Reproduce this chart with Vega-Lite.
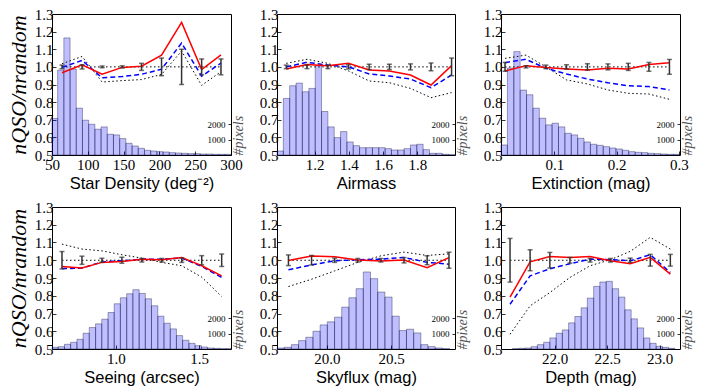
{
  "$schema": "https://vega.github.io/schema/vega-lite/v6.json",
  "padding": {"left": 6, "top": 6, "right": 4, "bottom": 4},
  "background": "white",
  "columns": 3,
  "spacing": {"row": 52, "column": 46},
  "bounds": "flush",
  "config": {
    "view": {"stroke": "black", "strokeWidth": 1},
    "axis": {"labelFont": "Liberation Serif", "labelFontSize": 15, "labelColor": "black", "titleFont": "Liberation Sans", "titleFontSize": 16.5, "titleFontWeight": "normal", "titleColor": "black", "grid": false, "domain": false, "tickColor": "black", "tickSize": -4, "tickWidth": 0.8, "labelPadding": 3, "labelOverlap": false},
    "rect": {"fill": "#0000ff", "fillOpacity": 0.25, "stroke": "#000033", "strokeOpacity": 0.45, "strokeWidth": 0.8, "clip": true}
  },
  "datasets": {
    "h1": [{"b0":50,"b1":57.9,"n":2380},{"b0":57.9,"b1":66.56,"n":5545},{"b0":66.56,"b1":75.22,"n":7640},{"b0":75.22,"b1":83.88,"n":5610},{"b0":83.88,"b1":92.54,"n":3056},{"b0":92.54,"b1":101.2,"n":2270},{"b0":101.2,"b1":109.86,"n":2008},{"b0":109.86,"b1":118.52,"n":1681},{"b0":118.52,"b1":127.18,"n":1834},{"b0":127.18,"b1":135.84,"n":1353},{"b0":135.84,"b1":144.5,"n":1310},{"b0":144.5,"b1":153.16,"n":1070},{"b0":153.16,"b1":161.82,"n":764},{"b0":161.82,"b1":170.48,"n":589},{"b0":170.48,"b1":179.14,"n":437},{"b0":179.14,"b1":187.8,"n":306},{"b0":187.8,"b1":196.46,"n":262},{"b0":196.46,"b1":205.12,"n":218},{"b0":205.12,"b1":213.78,"n":196},{"b0":213.78,"b1":222.44,"n":153},{"b0":222.44,"b1":231.1,"n":131},{"b0":231.1,"b1":239.76,"n":109},{"b0":239.76,"b1":248.42,"n":87},{"b0":248.42,"b1":257.08,"n":87},{"b0":257.08,"b1":265.74,"n":65},{"b0":265.74,"b1":274.4,"n":65},{"b0":274.4,"b1":283.06,"n":44},{"b0":283.06,"b1":291.72,"n":44},{"b0":291.72,"b1":300,"n":44}],
    "l1": [
      {"x":64,"r":0.967,"b":0.997,"k":1.018,"lo":0.99,"hi":1.01},
      {"x":92,"r":1.012,"b":1.037,"k":1.059,"lo":0.988,"hi":1.012},
      {"x":120,"r":0.958,"b":0.938,"k":0.914,"lo":0.995,"hi":1.005},
      {"x":148,"r":0.997,"b":0.945,"k":0.922,"lo":0.994,"hi":1.006},
      {"x":175,"r":1.004,"b":0.958,"k":0.928,"lo":0.98,"hi":1.02},
      {"x":203,"r":1.066,"b":0.987,"k":0.957,"lo":0.95,"hi":1.05},
      {"x":231,"r":1.252,"b":1.135,"k":1.09,"lo":0.9,"hi":1.1},
      {"x":259,"r":0.985,"b":0.947,"k":0.895,"lo":0.955,"hi":1.045},
      {"x":286,"r":1.068,"b":1.022,"k":0.973,"lo":0.955,"hi":1.045}],
    "h2": [{"b0":0.981,"b1":1.018,"n":260},{"b0":1.018,"b1":1.055,"n":3690},{"b0":1.055,"b1":1.092,"n":4520},{"b0":1.092,"b1":1.129,"n":4690},{"b0":1.129,"b1":1.167,"n":4125},{"b0":1.167,"b1":1.204,"n":4345},{"b0":1.204,"b1":1.241,"n":5830},{"b0":1.241,"b1":1.278,"n":2840},{"b0":1.278,"b1":1.315,"n":1834},{"b0":1.315,"b1":1.352,"n":1135},{"b0":1.352,"b1":1.389,"n":1528},{"b0":1.389,"b1":1.426,"n":851},{"b0":1.426,"b1":1.463,"n":611},{"b0":1.463,"b1":1.5,"n":480},{"b0":1.5,"b1":1.538,"n":480},{"b0":1.538,"b1":1.575,"n":480},{"b0":1.575,"b1":1.612,"n":480},{"b0":1.612,"b1":1.649,"n":415},{"b0":1.649,"b1":1.686,"n":327},{"b0":1.686,"b1":1.723,"n":327},{"b0":1.723,"b1":1.76,"n":415},{"b0":1.76,"b1":1.797,"n":655},{"b0":1.797,"b1":1.834,"n":700},{"b0":1.834,"b1":1.871,"n":350},{"b0":1.871,"b1":1.909,"n":110},{"b0":1.909,"b1":1.946,"n":110},{"b0":1.946,"b1":1.983,"n":44},{"b0":1.983,"b1":2.02,"n":20}],
    "l2": [
      {"x":1.035,"r":0.988,"b":1.0,"k":1.02,"lo":0.99,"hi":1.01},
      {"x":1.156,"r":1.014,"b":1.026,"k":1.043,"lo":0.99,"hi":1.01},
      {"x":1.278,"r":1.007,"b":1.01,"k":1.02,"lo":0.99,"hi":1.01},
      {"x":1.398,"r":1.02,"b":1.0,"k":0.977,"lo":0.988,"hi":1.012},
      {"x":1.519,"r":0.982,"b":0.96,"k":0.92,"lo":0.985,"hi":1.015},
      {"x":1.637,"r":0.977,"b":0.948,"k":0.91,"lo":0.985,"hi":1.015},
      {"x":1.76,"r":0.954,"b":0.931,"k":0.878,"lo":0.983,"hi":1.017},
      {"x":1.88,"r":0.897,"b":0.882,"k":0.825,"lo":0.978,"hi":1.022},
      {"x":2.0,"r":1.007,"b":0.954,"k":0.854,"lo":0.95,"hi":1.05}],
    "h3": [{"b0":0.0139,"b1":0.0242,"n":655},{"b0":0.0242,"b1":0.0345,"n":5676},{"b0":0.0345,"b1":0.0447,"n":6745},{"b0":0.0447,"b1":0.055,"n":4235},{"b0":0.055,"b1":0.0653,"n":3930},{"b0":0.0653,"b1":0.0756,"n":3056},{"b0":0.0756,"b1":0.0859,"n":2400},{"b0":0.0859,"b1":0.0961,"n":1965},{"b0":0.0961,"b1":0.1064,"n":2074},{"b0":0.1064,"b1":0.1167,"n":1834},{"b0":0.1167,"b1":0.127,"n":1419},{"b0":0.127,"b1":0.1373,"n":1310},{"b0":0.1373,"b1":0.1475,"n":1092},{"b0":0.1475,"b1":0.1578,"n":851},{"b0":0.1578,"b1":0.1681,"n":700},{"b0":0.1681,"b1":0.1784,"n":633},{"b0":0.1784,"b1":0.1887,"n":546},{"b0":0.1887,"b1":0.1989,"n":458},{"b0":0.1989,"b1":0.2092,"n":393},{"b0":0.2092,"b1":0.2195,"n":306},{"b0":0.2195,"b1":0.2298,"n":218},{"b0":0.2298,"b1":0.2401,"n":175},{"b0":0.2401,"b1":0.2503,"n":153},{"b0":0.2503,"b1":0.2606,"n":109},{"b0":0.2606,"b1":0.2709,"n":87},{"b0":0.2709,"b1":0.2812,"n":65},{"b0":0.2812,"b1":0.2915,"n":44},{"b0":0.2915,"b1":0.302,"n":44}],
    "l3": [
      {"x":0.0204,"r":0.977,"b":1.024,"k":1.048,"lo":0.975,"hi":1.025},
      {"x":0.0541,"r":1.007,"b":1.043,"k":1.067,"lo":0.994,"hi":1.006},
      {"x":0.0862,"r":0.996,"b":0.992,"k":1.0,"lo":0.99,"hi":1.01},
      {"x":0.1193,"r":0.988,"b":0.96,"k":0.926,"lo":0.988,"hi":1.012},
      {"x":0.153,"r":0.982,"b":0.931,"k":0.903,"lo":0.982,"hi":1.018},
      {"x":0.186,"r":0.992,"b":0.91,"k":0.869,"lo":0.983,"hi":1.017},
      {"x":0.2187,"r":0.988,"b":0.893,"k":0.85,"lo":0.98,"hi":1.02},
      {"x":0.252,"r":1.014,"b":0.888,"k":0.846,"lo":0.975,"hi":1.025},
      {"x":0.285,"r":1.024,"b":0.869,"k":0.816,"lo":0.958,"hi":1.042}],
    "h4": [{"b0":0.616,"b1":0.653,"n":109},{"b0":0.653,"b1":0.691,"n":152},{"b0":0.691,"b1":0.728,"n":304},{"b0":0.728,"b1":0.766,"n":434},{"b0":0.766,"b1":0.803,"n":629},{"b0":0.803,"b1":0.84,"n":1020},{"b0":0.84,"b1":0.878,"n":1389},{"b0":0.878,"b1":0.915,"n":1628},{"b0":0.915,"b1":0.953,"n":1931},{"b0":0.953,"b1":0.99,"n":2365},{"b0":0.99,"b1":1.027,"n":2930},{"b0":1.027,"b1":1.065,"n":3320},{"b0":1.065,"b1":1.102,"n":3580},{"b0":1.102,"b1":1.14,"n":3841},{"b0":1.14,"b1":1.177,"n":3602},{"b0":1.177,"b1":1.214,"n":3255},{"b0":1.214,"b1":1.252,"n":2800},{"b0":1.252,"b1":1.289,"n":2127},{"b0":1.289,"b1":1.327,"n":1671},{"b0":1.327,"b1":1.364,"n":1302},{"b0":1.364,"b1":1.401,"n":868},{"b0":1.401,"b1":1.439,"n":564},{"b0":1.439,"b1":1.476,"n":369},{"b0":1.476,"b1":1.514,"n":217},{"b0":1.514,"b1":1.551,"n":130},{"b0":1.551,"b1":1.588,"n":65},{"b0":1.588,"b1":1.626,"n":43},{"b0":1.626,"b1":1.663,"n":22},{"b0":1.663,"b1":1.692,"n":22}],
    "l4": [
      {"x":0.676,"r":0.965,"b":0.953,"k":1.091,"lo":0.951,"hi":1.049},
      {"x":0.796,"r":0.956,"b":0.956,"k":1.063,"lo":0.977,"hi":1.023},
      {"x":0.916,"r":0.988,"b":0.99,"k":1.053,"lo":0.989,"hi":1.011},
      {"x":1.036,"r":0.993,"b":0.997,"k":1.031,"lo":0.983,"hi":1.017},
      {"x":1.156,"r":1.006,"b":1.006,"k":1.012,"lo":0.99,"hi":1.01},
      {"x":1.276,"r":1.003,"b":1.006,"k":0.988,"lo":0.99,"hi":1.01},
      {"x":1.396,"r":1.016,"b":1.012,"k":0.969,"lo":0.988,"hi":1.012},
      {"x":1.516,"r":0.969,"b":0.965,"k":0.905,"lo":0.974,"hi":1.026},
      {"x":1.636,"r":0.912,"b":0.903,"k":0.796,"lo":0.965,"hi":1.035}],
    "h5": [{"b0":19.611,"b1":19.667,"n":65},{"b0":19.667,"b1":19.723,"n":109},{"b0":19.723,"b1":19.779,"n":282},{"b0":19.779,"b1":19.835,"n":543},{"b0":19.835,"b1":19.891,"n":760},{"b0":19.891,"b1":19.947,"n":1150},{"b0":19.947,"b1":20.003,"n":1562},{"b0":20.003,"b1":20.059,"n":1758},{"b0":20.059,"b1":20.115,"n":2062},{"b0":20.115,"b1":20.171,"n":2713},{"b0":20.171,"b1":20.227,"n":3320},{"b0":20.227,"b1":20.283,"n":3906},{"b0":20.283,"b1":20.339,"n":4991},{"b0":20.339,"b1":20.395,"n":4557},{"b0":20.395,"b1":20.451,"n":3689},{"b0":20.451,"b1":20.507,"n":3364},{"b0":20.507,"b1":20.563,"n":2127},{"b0":20.563,"b1":20.619,"n":1194},{"b0":20.619,"b1":20.675,"n":1280},{"b0":20.675,"b1":20.731,"n":1042},{"b0":20.731,"b1":20.787,"n":282},{"b0":20.787,"b1":20.843,"n":152},{"b0":20.843,"b1":20.899,"n":65},{"b0":20.899,"b1":20.955,"n":22}],
    "l5": [
      {"x":19.70,"r":0.999,"b":0.946,"k":0.852,"lo":0.97,"hi":1.03},
      {"x":19.88,"r":1.024,"b":0.974,"k":0.893,"lo":0.973,"hi":1.027},
      {"x":20.06,"r":1.02,"b":0.997,"k":0.94,"lo":0.988,"hi":1.012},
      {"x":20.24,"r":1.001,"b":1.003,"k":0.988,"lo":0.99,"hi":1.01},
      {"x":20.42,"r":0.996,"b":1.006,"k":1.025,"lo":0.99,"hi":1.01},
      {"x":20.60,"r":1.001,"b":1.016,"k":1.046,"lo":0.985,"hi":1.015},
      {"x":20.78,"r":0.958,"b":0.988,"k":1.027,"lo":0.975,"hi":1.025},
      {"x":20.95,"r":1.015,"b":0.978,"k":1.036,"lo":0.955,"hi":1.045}],
    "h6": [{"b0":21.598,"b1":21.658,"n":22},{"b0":21.658,"b1":21.717,"n":43},{"b0":21.717,"b1":21.777,"n":65},{"b0":21.777,"b1":21.836,"n":152},{"b0":21.836,"b1":21.896,"n":282},{"b0":21.896,"b1":21.955,"n":434},{"b0":21.955,"b1":22.015,"n":716},{"b0":22.015,"b1":22.074,"n":1020},{"b0":22.074,"b1":22.134,"n":1237},{"b0":22.134,"b1":22.193,"n":1693},{"b0":22.193,"b1":22.253,"n":2105},{"b0":22.253,"b1":22.312,"n":2669},{"b0":22.312,"b1":22.372,"n":3298},{"b0":22.372,"b1":22.431,"n":4058},{"b0":22.431,"b1":22.491,"n":4340},{"b0":22.491,"b1":22.55,"n":4383},{"b0":22.55,"b1":22.61,"n":3906},{"b0":22.61,"b1":22.669,"n":3364},{"b0":22.669,"b1":22.729,"n":2539},{"b0":22.729,"b1":22.788,"n":1953},{"b0":22.788,"b1":22.848,"n":1367},{"b0":22.848,"b1":22.907,"n":716},{"b0":22.907,"b1":22.967,"n":369},{"b0":22.967,"b1":23.026,"n":174},{"b0":23.026,"b1":23.086,"n":109},{"b0":23.086,"b1":23.145,"n":43}],
    "l6": [
      {"x":21.576,"r":0.792,"b":0.752,"k":0.583,"lo":0.877,"hi":1.123},
      {"x":21.767,"r":0.991,"b":0.912,"k":0.743,"lo":0.941,"hi":1.059},
      {"x":21.955,"r":1.021,"b":0.952,"k":0.818,"lo":0.956,"hi":1.044},
      {"x":22.146,"r":1.016,"b":0.98,"k":0.903,"lo":0.984,"hi":1.016},
      {"x":22.338,"r":1.021,"b":1.006,"k":0.969,"lo":0.99,"hi":1.01},
      {"x":22.532,"r":0.997,"b":1.003,"k":1.003,"lo":0.99,"hi":1.01},
      {"x":22.72,"r":0.98,"b":0.997,"k":1.05,"lo":0.988,"hi":1.012},
      {"x":22.911,"r":1.016,"b":1.031,"k":1.129,"lo":0.967,"hi":1.033},
      {"x":23.102,"r":0.922,"b":0.931,"k":1.063,"lo":0.967,"hi":1.033}]
  },
  "concat": [
    {
      "width": 179, "height": 141,
      "resolve": {"scale": {"y": "independent"}, "axis": {"y": "independent", "x": "independent"}},
      "layer": [
        {"data": {"name": "h1"}, "mark": "rect", "encoding": {
          "x": {"field": "b0", "type": "quantitative", "scale": {"domain": [50, 300], "nice": false, "zero": false}, "axis": {"title": "Star Density (deg⁻²)", "values": [50,100,150,200,250,300], "labelFlush": false, "labelOverlap": false, "labelPadding": 6, "titlePadding": 3}},
          "x2": {"field": "b1"},
          "y": {"field": "n", "type": "quantitative", "scale": {"domain": [0, 9200], "nice": false}, "axis": {"title": "#pixels", "orient": "right", "values": [1000, 2000], "format": "d", "labelOverlap": false, "labelFontSize": 9, "labelAlign": "right", "labelPadding": -3, "tickSize": -3, "titleFont": "Liberation Serif", "titleFontStyle": "italic", "titleFontSize": 14, "titleColor": "#555", "titleAngle": 270, "titleAnchor": "start", "titlePadding": 14}},
          "y2": {"datum": 0}}},
        {"data": {"name": "l1"}, "mark": {"type": "rule", "color": "black", "strokeDash": [1.5, 2.5], "strokeWidth": 1}, "encoding": {"x": {"aggregate": "min", "field": "x", "type": "quantitative", "axis": null}, "x2": {"aggregate": "max", "field": "x"}, "y": {"datum": 1, "type": "quantitative", "scale": {"domain": [0.5, 1.3], "nice": false, "zero": false}, "axis": null}}},
        {"data": {"name": "l1"}, "mark": {"type": "line", "color": "black", "strokeDash": [1.5, 2.5], "strokeWidth": 1}, "encoding": {"x": {"field": "x", "type": "quantitative", "axis": null}, "y": {"field": "k", "type": "quantitative", "scale": {"domain": [0.5, 1.3], "nice": false, "zero": false}, "axis": {"title": "nQSO/nrandom", "orient": "left", "values": [0.5,0.6,0.7,0.8,0.9,1.0,1.1,1.2,1.3], "format": ".1f", "labelOverlap": false, "titleFont": "Liberation Serif", "titleFontStyle": "italic", "titleFontWeight": "normal", "titleFontSize": 22, "titlePadding": 4}}}},
        {"data": {"name": "l1"}, "mark": {"type": "line", "color": "blue", "strokeDash": [5, 3], "strokeWidth": 1.5}, "encoding": {"x": {"field": "x", "type": "quantitative", "axis": null}, "y": {"field": "b", "type": "quantitative", "scale": {"domain": [0.5, 1.3], "nice": false, "zero": false}, "axis": null}}},
        {"data": {"name": "l1"}, "mark": {"type": "line", "color": "red", "strokeWidth": 1.5}, "encoding": {"x": {"field": "x", "type": "quantitative", "axis": null}, "y": {"field": "r", "type": "quantitative", "scale": {"domain": [0.5, 1.3], "nice": false, "zero": false}, "axis": null}}},
        {"data": {"name": "l1"}, "mark": {"type": "errorbar", "color": "#333", "thickness": 1.5, "ticks": {"size": 5}}, "encoding": {"x": {"field": "x", "type": "quantitative", "axis": null}, "y": {"field": "lo", "type": "quantitative", "scale": {"domain": [0.5, 1.3], "nice": false, "zero": false}, "axis": null}, "y2": {"field": "hi"}}}
      ]
    },
    {
      "width": 178, "height": 141,
      "resolve": {"scale": {"y": "independent"}, "axis": {"y": "independent", "x": "independent"}},
      "layer": [
        {"data": {"name": "h2"}, "mark": "rect", "encoding": {
          "x": {"field": "b0", "type": "quantitative", "scale": {"domain": [0.981, 2.02], "nice": false, "zero": false}, "axis": {"title": "Airmass", "values": [1.2,1.4,1.6,1.8], "format": ".1f", "labelFlush": false, "labelOverlap": false, "labelPadding": 6, "titlePadding": 3}},
          "x2": {"field": "b1"},
          "y": {"field": "n", "type": "quantitative", "scale": {"domain": [0, 9200], "nice": false}, "axis": {"title": "#pixels", "orient": "right", "values": [1000, 2000], "format": "d", "labelOverlap": false, "labelFontSize": 9, "labelAlign": "right", "labelPadding": -3, "tickSize": -3, "titleFont": "Liberation Serif", "titleFontStyle": "italic", "titleFontSize": 14, "titleColor": "#555", "titleAngle": 270, "titleAnchor": "start", "titlePadding": 14}},
          "y2": {"datum": 0}}},
        {"data": {"name": "l2"}, "mark": {"type": "rule", "color": "black", "strokeDash": [1.5, 2.5], "strokeWidth": 1}, "encoding": {"x": {"aggregate": "min", "field": "x", "type": "quantitative", "axis": null}, "x2": {"aggregate": "max", "field": "x"}, "y": {"datum": 1, "type": "quantitative", "scale": {"domain": [0.5, 1.3], "nice": false, "zero": false}, "axis": null}}},
        {"data": {"name": "l2"}, "mark": {"type": "line", "color": "black", "strokeDash": [1.5, 2.5], "strokeWidth": 1}, "encoding": {"x": {"field": "x", "type": "quantitative", "axis": null}, "y": {"field": "k", "type": "quantitative", "scale": {"domain": [0.5, 1.3], "nice": false, "zero": false}, "axis": {"title": null, "orient": "left", "values": [0.5,0.6,0.7,0.8,0.9,1.0,1.1,1.2,1.3], "format": ".1f", "labelOverlap": false}}}},
        {"data": {"name": "l2"}, "mark": {"type": "line", "color": "blue", "strokeDash": [5, 3], "strokeWidth": 1.5}, "encoding": {"x": {"field": "x", "type": "quantitative", "axis": null}, "y": {"field": "b", "type": "quantitative", "scale": {"domain": [0.5, 1.3], "nice": false, "zero": false}, "axis": null}}},
        {"data": {"name": "l2"}, "mark": {"type": "line", "color": "red", "strokeWidth": 1.5}, "encoding": {"x": {"field": "x", "type": "quantitative", "axis": null}, "y": {"field": "r", "type": "quantitative", "scale": {"domain": [0.5, 1.3], "nice": false, "zero": false}, "axis": null}}},
        {"data": {"name": "l2"}, "mark": {"type": "errorbar", "color": "#333", "thickness": 1.5, "ticks": {"size": 5}}, "encoding": {"x": {"field": "x", "type": "quantitative", "axis": null}, "y": {"field": "lo", "type": "quantitative", "scale": {"domain": [0.5, 1.3], "nice": false, "zero": false}, "axis": null}, "y2": {"field": "hi"}}}
      ]
    },
    {
      "width": 179, "height": 141,
      "resolve": {"scale": {"y": "independent"}, "axis": {"y": "independent", "x": "independent"}},
      "layer": [
        {"data": {"name": "h3"}, "mark": "rect", "encoding": {
          "x": {"field": "b0", "type": "quantitative", "scale": {"domain": [0.0139, 0.302], "nice": false, "zero": false}, "axis": {"title": "Extinction (mag)", "values": [0.1,0.2,0.3], "format": ".1f", "labelFlush": false, "labelOverlap": false, "labelPadding": 6, "titlePadding": 3}},
          "x2": {"field": "b1"},
          "y": {"field": "n", "type": "quantitative", "scale": {"domain": [0, 9200], "nice": false}, "axis": {"title": "#pixels", "orient": "right", "values": [1000, 2000], "format": "d", "labelOverlap": false, "labelFontSize": 9, "labelAlign": "right", "labelPadding": -3, "tickSize": -3, "titleFont": "Liberation Serif", "titleFontStyle": "italic", "titleFontSize": 14, "titleColor": "#555", "titleAngle": 270, "titleAnchor": "start", "titlePadding": 14}},
          "y2": {"datum": 0}}},
        {"data": {"name": "l3"}, "mark": {"type": "rule", "color": "black", "strokeDash": [1.5, 2.5], "strokeWidth": 1}, "encoding": {"x": {"aggregate": "min", "field": "x", "type": "quantitative", "axis": null}, "x2": {"aggregate": "max", "field": "x"}, "y": {"datum": 1, "type": "quantitative", "scale": {"domain": [0.5, 1.3], "nice": false, "zero": false}, "axis": null}}},
        {"data": {"name": "l3"}, "mark": {"type": "line", "color": "black", "strokeDash": [1.5, 2.5], "strokeWidth": 1}, "encoding": {"x": {"field": "x", "type": "quantitative", "axis": null}, "y": {"field": "k", "type": "quantitative", "scale": {"domain": [0.5, 1.3], "nice": false, "zero": false}, "axis": {"title": null, "orient": "left", "values": [0.5,0.6,0.7,0.8,0.9,1.0,1.1,1.2,1.3], "format": ".1f", "labelOverlap": false}}}},
        {"data": {"name": "l3"}, "mark": {"type": "line", "color": "blue", "strokeDash": [5, 3], "strokeWidth": 1.5}, "encoding": {"x": {"field": "x", "type": "quantitative", "axis": null}, "y": {"field": "b", "type": "quantitative", "scale": {"domain": [0.5, 1.3], "nice": false, "zero": false}, "axis": null}}},
        {"data": {"name": "l3"}, "mark": {"type": "line", "color": "red", "strokeWidth": 1.5}, "encoding": {"x": {"field": "x", "type": "quantitative", "axis": null}, "y": {"field": "r", "type": "quantitative", "scale": {"domain": [0.5, 1.3], "nice": false, "zero": false}, "axis": null}}},
        {"data": {"name": "l3"}, "mark": {"type": "errorbar", "color": "#333", "thickness": 1.5, "ticks": {"size": 5}}, "encoding": {"x": {"field": "x", "type": "quantitative", "axis": null}, "y": {"field": "lo", "type": "quantitative", "scale": {"domain": [0.5, 1.3], "nice": false, "zero": false}, "axis": null}, "y2": {"field": "hi"}}}
      ]
    },
    {
      "width": 179, "height": 142,
      "resolve": {"scale": {"y": "independent"}, "axis": {"y": "independent", "x": "independent"}},
      "layer": [
        {"data": {"name": "h4"}, "mark": "rect", "encoding": {
          "x": {"field": "b0", "type": "quantitative", "scale": {"domain": [0.616, 1.692], "nice": false, "zero": false}, "axis": {"title": "Seeing (arcsec)", "values": [1.0,1.5], "format": ".1f", "labelFlush": false, "labelOverlap": false, "labelPadding": 6, "titlePadding": 3}},
          "x2": {"field": "b1"},
          "y": {"field": "n", "type": "quantitative", "scale": {"domain": [0, 9200], "nice": false}, "axis": {"title": "#pixels", "orient": "right", "values": [1000, 2000], "format": "d", "labelOverlap": false, "labelFontSize": 9, "labelAlign": "right", "labelPadding": -3, "tickSize": -3, "titleFont": "Liberation Serif", "titleFontStyle": "italic", "titleFontSize": 14, "titleColor": "#555", "titleAngle": 270, "titleAnchor": "start", "titlePadding": 14}},
          "y2": {"datum": 0}}},
        {"data": {"name": "l4"}, "mark": {"type": "rule", "color": "black", "strokeDash": [1.5, 2.5], "strokeWidth": 1}, "encoding": {"x": {"aggregate": "min", "field": "x", "type": "quantitative", "axis": null}, "x2": {"aggregate": "max", "field": "x"}, "y": {"datum": 1, "type": "quantitative", "scale": {"domain": [0.5, 1.3], "nice": false, "zero": false}, "axis": null}}},
        {"data": {"name": "l4"}, "mark": {"type": "line", "color": "black", "strokeDash": [1.5, 2.5], "strokeWidth": 1}, "encoding": {"x": {"field": "x", "type": "quantitative", "axis": null}, "y": {"field": "k", "type": "quantitative", "scale": {"domain": [0.5, 1.3], "nice": false, "zero": false}, "axis": {"title": "nQSO/nrandom", "orient": "left", "values": [0.5,0.6,0.7,0.8,0.9,1.0,1.1,1.2,1.3], "format": ".1f", "labelOverlap": false, "titleFont": "Liberation Serif", "titleFontStyle": "italic", "titleFontWeight": "normal", "titleFontSize": 22, "titlePadding": 4}}}},
        {"data": {"name": "l4"}, "mark": {"type": "line", "color": "blue", "strokeDash": [5, 3], "strokeWidth": 1.5}, "encoding": {"x": {"field": "x", "type": "quantitative", "axis": null}, "y": {"field": "b", "type": "quantitative", "scale": {"domain": [0.5, 1.3], "nice": false, "zero": false}, "axis": null}}},
        {"data": {"name": "l4"}, "mark": {"type": "line", "color": "red", "strokeWidth": 1.5}, "encoding": {"x": {"field": "x", "type": "quantitative", "axis": null}, "y": {"field": "r", "type": "quantitative", "scale": {"domain": [0.5, 1.3], "nice": false, "zero": false}, "axis": null}}},
        {"data": {"name": "l4"}, "mark": {"type": "errorbar", "color": "#333", "thickness": 1.5, "ticks": {"size": 5}}, "encoding": {"x": {"field": "x", "type": "quantitative", "axis": null}, "y": {"field": "lo", "type": "quantitative", "scale": {"domain": [0.5, 1.3], "nice": false, "zero": false}, "axis": null}, "y2": {"field": "hi"}}}
      ]
    },
    {
      "width": 178, "height": 142,
      "resolve": {"scale": {"y": "independent"}, "axis": {"y": "independent", "x": "independent"}},
      "layer": [
        {"data": {"name": "h5"}, "mark": "rect", "encoding": {
          "x": {"field": "b0", "type": "quantitative", "scale": {"domain": [19.611, 20.997], "nice": false, "zero": false}, "axis": {"title": "Skyflux (mag)", "values": [20.0,20.5], "format": ".1f", "labelFlush": false, "labelOverlap": false, "labelPadding": 6, "titlePadding": 3}},
          "x2": {"field": "b1"},
          "y": {"field": "n", "type": "quantitative", "scale": {"domain": [0, 9200], "nice": false}, "axis": {"title": "#pixels", "orient": "right", "values": [1000, 2000], "format": "d", "labelOverlap": false, "labelFontSize": 9, "labelAlign": "right", "labelPadding": -3, "tickSize": -3, "titleFont": "Liberation Serif", "titleFontStyle": "italic", "titleFontSize": 14, "titleColor": "#555", "titleAngle": 270, "titleAnchor": "start", "titlePadding": 14}},
          "y2": {"datum": 0}}},
        {"data": {"name": "l5"}, "mark": {"type": "rule", "color": "black", "strokeDash": [1.5, 2.5], "strokeWidth": 1}, "encoding": {"x": {"aggregate": "min", "field": "x", "type": "quantitative", "axis": null}, "x2": {"aggregate": "max", "field": "x"}, "y": {"datum": 1, "type": "quantitative", "scale": {"domain": [0.5, 1.3], "nice": false, "zero": false}, "axis": null}}},
        {"data": {"name": "l5"}, "mark": {"type": "line", "color": "black", "strokeDash": [1.5, 2.5], "strokeWidth": 1}, "encoding": {"x": {"field": "x", "type": "quantitative", "axis": null}, "y": {"field": "k", "type": "quantitative", "scale": {"domain": [0.5, 1.3], "nice": false, "zero": false}, "axis": {"title": null, "orient": "left", "values": [0.5,0.6,0.7,0.8,0.9,1.0,1.1,1.2,1.3], "format": ".1f", "labelOverlap": false}}}},
        {"data": {"name": "l5"}, "mark": {"type": "line", "color": "blue", "strokeDash": [5, 3], "strokeWidth": 1.5}, "encoding": {"x": {"field": "x", "type": "quantitative", "axis": null}, "y": {"field": "b", "type": "quantitative", "scale": {"domain": [0.5, 1.3], "nice": false, "zero": false}, "axis": null}}},
        {"data": {"name": "l5"}, "mark": {"type": "line", "color": "red", "strokeWidth": 1.5}, "encoding": {"x": {"field": "x", "type": "quantitative", "axis": null}, "y": {"field": "r", "type": "quantitative", "scale": {"domain": [0.5, 1.3], "nice": false, "zero": false}, "axis": null}}},
        {"data": {"name": "l5"}, "mark": {"type": "errorbar", "color": "#333", "thickness": 1.5, "ticks": {"size": 5}}, "encoding": {"x": {"field": "x", "type": "quantitative", "axis": null}, "y": {"field": "lo", "type": "quantitative", "scale": {"domain": [0.5, 1.3], "nice": false, "zero": false}, "axis": null}, "y2": {"field": "hi"}}}
      ]
    },
    {
      "width": 179, "height": 142,
      "resolve": {"scale": {"y": "independent"}, "axis": {"y": "independent", "x": "independent"}},
      "layer": [
        {"data": {"name": "h6"}, "mark": "rect", "encoding": {
          "x": {"field": "b0", "type": "quantitative", "scale": {"domain": [21.49, 23.194], "nice": false, "zero": false}, "axis": {"title": "Depth (mag)", "values": [22.0,22.5,23.0], "format": ".1f", "labelFlush": false, "labelOverlap": false, "labelPadding": 6, "titlePadding": 3}},
          "x2": {"field": "b1"},
          "y": {"field": "n", "type": "quantitative", "scale": {"domain": [0, 9200], "nice": false}, "axis": {"title": "#pixels", "orient": "right", "values": [1000, 2000], "format": "d", "labelOverlap": false, "labelFontSize": 9, "labelAlign": "right", "labelPadding": -3, "tickSize": -3, "titleFont": "Liberation Serif", "titleFontStyle": "italic", "titleFontSize": 14, "titleColor": "#555", "titleAngle": 270, "titleAnchor": "start", "titlePadding": 14}},
          "y2": {"datum": 0}}},
        {"data": {"name": "l6"}, "mark": {"type": "rule", "color": "black", "strokeDash": [1.5, 2.5], "strokeWidth": 1}, "encoding": {"x": {"aggregate": "min", "field": "x", "type": "quantitative", "axis": null}, "x2": {"aggregate": "max", "field": "x"}, "y": {"datum": 1, "type": "quantitative", "scale": {"domain": [0.5, 1.3], "nice": false, "zero": false}, "axis": null}}},
        {"data": {"name": "l6"}, "mark": {"type": "line", "color": "black", "strokeDash": [1.5, 2.5], "strokeWidth": 1}, "encoding": {"x": {"field": "x", "type": "quantitative", "axis": null}, "y": {"field": "k", "type": "quantitative", "scale": {"domain": [0.5, 1.3], "nice": false, "zero": false}, "axis": {"title": null, "orient": "left", "values": [0.5,0.6,0.7,0.8,0.9,1.0,1.1,1.2,1.3], "format": ".1f", "labelOverlap": false}}}},
        {"data": {"name": "l6"}, "mark": {"type": "line", "color": "blue", "strokeDash": [5, 3], "strokeWidth": 1.5}, "encoding": {"x": {"field": "x", "type": "quantitative", "axis": null}, "y": {"field": "b", "type": "quantitative", "scale": {"domain": [0.5, 1.3], "nice": false, "zero": false}, "axis": null}}},
        {"data": {"name": "l6"}, "mark": {"type": "line", "color": "red", "strokeWidth": 1.5}, "encoding": {"x": {"field": "x", "type": "quantitative", "axis": null}, "y": {"field": "r", "type": "quantitative", "scale": {"domain": [0.5, 1.3], "nice": false, "zero": false}, "axis": null}}},
        {"data": {"name": "l6"}, "mark": {"type": "errorbar", "color": "#333", "thickness": 1.5, "ticks": {"size": 5}}, "encoding": {"x": {"field": "x", "type": "quantitative", "axis": null}, "y": {"field": "lo", "type": "quantitative", "scale": {"domain": [0.5, 1.3], "nice": false, "zero": false}, "axis": null}, "y2": {"field": "hi"}}}
      ]
    }
  ]
}
